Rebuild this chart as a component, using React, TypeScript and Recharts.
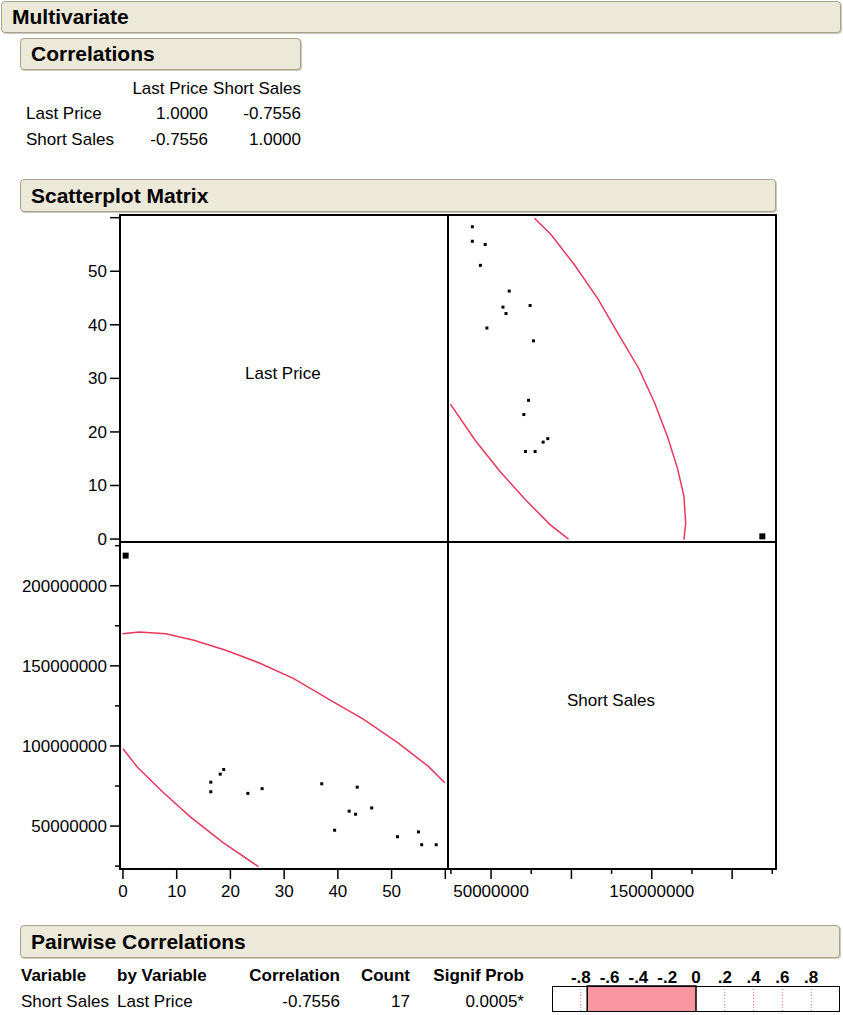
import React from "react";
import {
  ScatterChart,
  Scatter,
  XAxis,
  YAxis,
  BarChart,
  Bar,
  ReferenceLine,
} from "recharts";

const FONT = '"Liberation Sans", Arial, Helvetica, sans-serif';
const RED = "#E8385C";
const PINK = "#F8979F";
const BEIGE = "#ECE9D8";

// correlations table
const variables = ["Last Price", "Short Sales"];
const corrMatrix = [
  ["1.0000", "-0.7556"],
  ["-0.7556", "1.0000"],
];

// pairwise correlation
const pairCorr = -0.7556;
const pairCount = 17;
const pairProb = "0.0005*";
const corrTicks = [-0.8, -0.6, -0.4, -0.2, 0, 0.2, 0.4, 0.6, 0.8];

// rows
const lastPrice = [
  16.35, 16.35, 18.1, 18.75, 23.25, 25.9, 37.0, 39.4, 42.1, 43.3, 43.6, 46.3,
  51.1, 55.0, 55.6, 58.3, 0.5,
];
const shortSales = [
  77400000, 71400000, 82400000, 85300000, 70400000, 73350000, 76400000,
  47400000, 59300000, 57400000, 74300000, 61300000, 43350000, 46350000,
  38350000, 38350000, 218800000,
];
const bigMarkerRow = 16;

// 95% density ellipse, the two visible arcs
const outerArcLP = [-0.1, 3, 8, 13.2, 19, 25.4, 31.8, 38.1, 44.8, 51.2, 56.8, 59.9];
const outerArcSS = [
  170000000, 171100000, 170000000, 166000000, 159900000, 151800000, 142000000,
  129500000, 116600000, 101900000, 87400000, 77000000,
];
const innerArcLP = [0, 2.7, 7.4, 12.55, 18.45, 25.2];
const innerArcSS = [98200000, 86700000, 71250000, 55700000, 40100000, 24700000];

// axes
const lpDomain = [-0.55, 60.5];
const ssDomain = [23200000, 227300000];
const lpTicks = [0, 10, 20, 30, 40, 50, 60];
const lpLabels = [0, 10, 20, 30, 40, 50];
const ssMajor = [50000000, 100000000, 150000000, 200000000];
const ssMinor = [25000000, 75000000, 125000000, 175000000, 225000000];
const ssTicks = [...ssMinor, ...ssMajor].sort((a, b) => a - b);
const ssYLabels = ssMajor;
const ssXLabels = [50000000, 150000000];

const rows = lastPrice.map((lp, i) => ({
  lp,
  ss: shortSales[i],
  big: i === bigMarkerRow,
}));
const outerArc = outerArcLP.map((lp, i) => ({ lp, ss: outerArcSS[i] }));
const innerArc = innerArcLP.map((lp, i) => ({ lp, ss: innerArcSS[i] }));

const Marker = (props: any) => {
  const { cx, cy, payload } = props;
  const s = payload && payload.big ? 6 : 3;
  return <rect x={cx - s / 2} y={cy - s / 2} width={s} height={s} fill="#000" />;
};
const NoMarker = () => <g />;

const leftTick = (major: number[], labels: number[]) => (props: any) => {
  const { x, y, payload } = props;
  const v = payload.value;
  const len = major.includes(v) ? 10 : 5;
  return (
    <g>
      <line x1={x - len} x2={x} y1={y} y2={y} stroke="#000" strokeWidth={1.5} />
      {labels.includes(v) && (
        <text x={x - 13} y={y} dy="0.35em" textAnchor="end" fontSize={17} fontFamily={FONT} fill="#000">
          {String(v)}
        </text>
      )}
    </g>
  );
};

const bottomTick = (major: number[], labels: number[]) => (props: any) => {
  const { x, y, payload } = props;
  const v = payload.value;
  const len = major.includes(v) ? 10 : 5;
  return (
    <g>
      <line x1={x} x2={x} y1={y} y2={y + len} stroke="#000" strokeWidth={1.5} />
      {labels.includes(v) && (
        <text x={x} y={y + 22} dy="0.35em" textAnchor="middle" fontSize={17} fontFamily={FONT} fill="#000">
          {String(v)}
        </text>
      )}
    </g>
  );
};

const Header = ({ left, top, width, height, text }: any) => (
  <div
    style={{
      position: "absolute",
      left,
      top,
      width,
      height,
      boxSizing: "border-box",
      background: BEIGE,
      border: "1px solid #A8A391",
      borderRadius: 4,
      boxShadow: "1px 1px 0 #CFCAB8",
      fontWeight: "bold",
      fontSize: 21,
      lineHeight: `${height - 2}px`,
      paddingLeft: 10,
      whiteSpace: "nowrap",
    }}
  >
    {text}
  </div>
);

const Txt = ({ x, cy, text, align = "left", bold = false }: any) => (
  <div
    style={{
      position: "absolute",
      left: align === "right" ? x - 200 : x,
      width: align === "right" ? 200 : undefined,
      top: cy - 10,
      height: 20,
      lineHeight: "20px",
      fontSize: 17,
      textAlign: align,
      fontWeight: bold ? "bold" : "normal",
      whiteSpace: "nowrap",
    }}
  >
    {text}
  </div>
);

const Rule = ({ x1, y1, x2, y2 }: any) => (
  <div
    style={{
      position: "absolute",
      left: Math.min(x1, x2) - 1,
      top: Math.min(y1, y2) - 1,
      width: Math.abs(x2 - x1) + 2,
      height: Math.abs(y2 - y1) + 2,
      background: "#000",
    }}
  />
);

const fmtCorr = (t: number) =>
  t === 0 ? "0" : (t < 0 ? "-" : "") + Math.abs(t).toFixed(1).slice(1);

const noMargin = { top: 0, right: 0, bottom: 0, left: 0 };

export default function App() {
  return (
    <div
      style={{
        position: "absolute",
        left: 0,
        top: 0,
        width: 843,
        height: 1015,
        background: "#fff",
        fontFamily: FONT,
        color: "#000",
        overflow: "hidden",
      }}
    >
      <Header left={1} top={1} width={840} height={32} text="Multivariate" />
      <Header left={20} top={38} width={281} height={32} text="Correlations" />

      <Txt x={208} cy={89} text={variables[0]} align="right" />
      <Txt x={301} cy={89} text={variables[1]} align="right" />
      {variables.map((v, r) => (
        <React.Fragment key={v}>
          <Txt x={26} cy={114 + r * 26} text={v} />
          <Txt x={208} cy={114 + r * 26} text={corrMatrix[r][0]} align="right" />
          <Txt x={301} cy={114 + r * 26} text={corrMatrix[r][1]} align="right" />
        </React.Fragment>
      ))}

      <Header left={20} top={179} width={756} height={33} text="Scatterplot Matrix" />

      {/* bottom-left: Short Sales by Last Price */}
      <div style={{ position: "absolute", left: 0, top: 542 }}>
        <ScatterChart width={448} height={367} margin={noMargin}>
          <XAxis
            type="number"
            dataKey="lp"
            domain={lpDomain}
            allowDataOverflow
            height={40}
            ticks={lpTicks}
            interval={0}
            tickSize={0}
            tickMargin={0}
            tickLine={false}
            axisLine={{ stroke: "#000", strokeWidth: 1.5 }}
            tick={bottomTick(lpTicks, lpLabels)}
          />
          <YAxis
            type="number"
            dataKey="ss"
            domain={ssDomain}
            allowDataOverflow
            width={120}
            ticks={ssTicks}
            interval={0}
            tickSize={0}
            tickMargin={0}
            tickLine={false}
            axisLine={{ stroke: "#000", strokeWidth: 1.5 }}
            tick={leftTick(ssMajor, ssYLabels)}
          />
          <Scatter data={outerArc} line={{ stroke: RED, strokeWidth: 1.5 }} shape={NoMarker} isAnimationActive={false} />
          <Scatter data={innerArc} line={{ stroke: RED, strokeWidth: 1.5 }} shape={NoMarker} isAnimationActive={false} />
          <Scatter data={rows} shape={Marker} isAnimationActive={false} />
        </ScatterChart>
      </div>

      {/* bottom-right: Short Sales axis */}
      <div style={{ position: "absolute", left: 448, top: 542 }}>
        <ScatterChart width={328} height={367} margin={noMargin}>
          <XAxis
            type="number"
            dataKey="ss"
            domain={ssDomain}
            allowDataOverflow
            height={40}
            ticks={ssTicks}
            interval={0}
            tickSize={0}
            tickMargin={0}
            tickLine={false}
            axisLine={{ stroke: "#000", strokeWidth: 1.5 }}
            tick={bottomTick(ssMajor, ssXLabels)}
          />
          <YAxis type="number" dataKey="ss" domain={ssDomain} allowDataOverflow hide />
        </ScatterChart>
      </div>
      <Txt x={567} cy={701} text={variables[1]} />

      {/* top-left: Last Price axis (extra bottom margin so the 0 label is not clipped) */}
      <div style={{ position: "absolute", left: 0, top: 215 }}>
        <ScatterChart width={448} height={341} margin={{ top: 0, right: 0, bottom: 14, left: 0 }}>
          <XAxis type="number" dataKey="lp" domain={lpDomain} allowDataOverflow hide />
          <YAxis
            type="number"
            dataKey="lp"
            domain={lpDomain}
            allowDataOverflow
            width={120}
            ticks={lpTicks}
            interval={0}
            tickSize={0}
            tickMargin={0}
            tickLine={false}
            axisLine={{ stroke: "#000", strokeWidth: 1.5 }}
            tick={leftTick(lpTicks, lpLabels)}
          />
        </ScatterChart>
      </div>
      <Txt x={245} cy={374} text={variables[0]} />

      {/* top-right: Last Price by Short Sales */}
      <div style={{ position: "absolute", left: 448, top: 215 }}>
        <ScatterChart width={328} height={327} margin={noMargin}>
          <XAxis type="number" dataKey="ss" domain={ssDomain} allowDataOverflow hide />
          <YAxis type="number" dataKey="lp" domain={lpDomain} allowDataOverflow hide />
          <Scatter data={outerArc} line={{ stroke: RED, strokeWidth: 1.5 }} shape={NoMarker} isAnimationActive={false} />
          <Scatter data={innerArc} line={{ stroke: RED, strokeWidth: 1.5 }} shape={NoMarker} isAnimationActive={false} />
          <Scatter data={rows} shape={Marker} isAnimationActive={false} />
        </ScatterChart>
      </div>

      {/* matrix frame */}
      <Rule x1={120} y1={215} x2={776} y2={215} />
      <Rule x1={120} y1={542} x2={776} y2={542} />
      <Rule x1={120} y1={869} x2={776} y2={869} />
      <Rule x1={120} y1={215} x2={120} y2={869} />
      <Rule x1={448} y1={215} x2={448} y2={869} />
      <Rule x1={776} y1={215} x2={776} y2={869} />

      <Header left={20} top={925} width={820} height={33} text="Pairwise Correlations" />

      <Txt x={21} cy={976} text="Variable" bold />
      <Txt x={117} cy={976} text="by Variable" bold />
      <Txt x={340} cy={976} text="Correlation" bold align="right" />
      <Txt x={410} cy={976} text="Count" bold align="right" />
      <Txt x={524} cy={976} text="Signif Prob" bold align="right" />

      <Txt x={21} cy={1002} text={variables[1]} />
      <Txt x={117} cy={1002} text={variables[0]} />
      <Txt x={340} cy={1002} text={pairCorr.toFixed(4)} align="right" />
      <Txt x={410} cy={1002} text={String(pairCount)} align="right" />
      <Txt x={524} cy={1002} text={pairProb} align="right" />

      <div style={{ position: "absolute", left: 552, top: 962 }}>
        <BarChart
          layout="vertical"
          width={288}
          height={50}
          data={[{ name: "Short Sales by Last Price", r: pairCorr }]}
          margin={noMargin}
          barCategoryGap={0}
        >
          <XAxis
            type="number"
            orientation="top"
            domain={[-1, 1]}
            allowDataOverflow
            ticks={corrTicks}
            interval={0}
            tickFormatter={fmtCorr}
            axisLine={false}
            tickLine={false}
            tickSize={0}
            tickMargin={3}
            height={24}
            tick={{ fontSize: 17, fontWeight: "bold", fill: "#000", fontFamily: FONT }}
          />
          <YAxis type="category" dataKey="name" hide />
          {corrTicks
            .filter((t) => t > 0 || t < pairCorr)
            .map((t) => (
              <ReferenceLine key={t} x={t} stroke="#F0708A" strokeDasharray="1 2" />
            ))}
          <Bar dataKey="r" fill={PINK} stroke="#000" strokeWidth={1.5} isAnimationActive={false} />
        </BarChart>
      </div>
      <div
        style={{
          position: "absolute",
          left: 552,
          top: 986,
          width: 288,
          height: 26,
          boxSizing: "border-box",
          border: "1.5px solid #000",
          pointerEvents: "none",
        }}
      />
    </div>
  );
}
